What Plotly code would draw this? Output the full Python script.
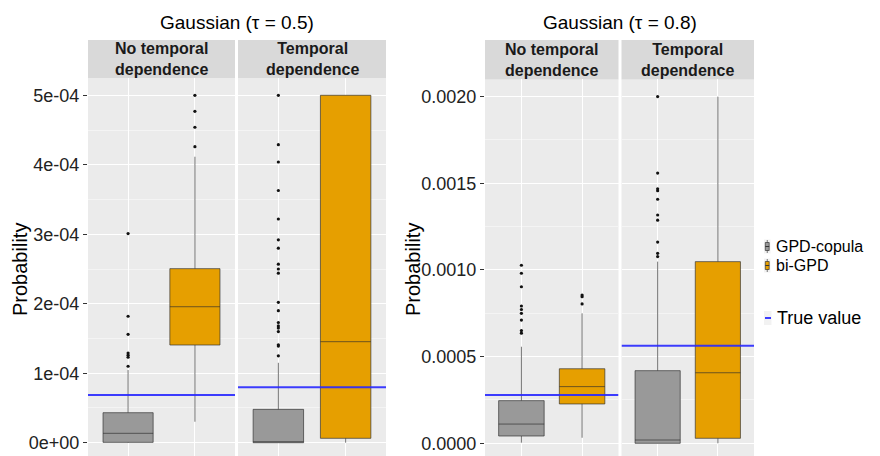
import plotly.graph_objects as go

W, H = 880, 456

# ---------------- data ----------------
group_titles = ["Gaussian (τ = 0.5)", "Gaussian (τ = 0.8)"]
facet_labels = ["No temporal<br>dependence", "Temporal<br>dependence"]
methods = ["GPD-copula", "bi-GPD"]

# panels: [τ=0.5 no-temp, τ=0.5 temp, τ=0.8 no-temp, τ=0.8 temp]; each [GPD-copula, bi-GPD]
q1 = [[0.005e-4, 1.406e-4], [0.0, 0.063e-4], [0.0000421, 0.000227], [0.0, 0.0000288]]
med = [[0.135e-4, 1.957e-4], [0.003e-4, 1.454e-4], [0.000111, 0.000327], [0.000019, 0.000407]]
q3 = [[0.432e-4, 2.505e-4], [0.48e-4, 5.0e-4], [0.000246, 0.000430], [0.000419, 0.001048]]
lowf = [[0.0, 0.302e-4], [0.0, 0.0], [0.0000035, 0.000032], [0.0, 0.0]]
upf = [[1.046e-4, 4.116e-4], [1.15e-4, 5.0e-4], [0.000557, 0.000750], [0.001048, 0.002]]

outliers = [
    [[1.10e-4, 1.23e-4, 1.26e-4, 1.29e-4, 1.56e-4, 1.82e-4, 3.01e-4],
     [4.26e-4, 4.54e-4, 4.77e-4, 5.0e-4]],
    [[1.25e-4, 1.39e-4, 1.41e-4, 1.60e-4, 1.65e-4, 1.68e-4, 1.73e-4, 1.90e-4, 2.02e-4,
      2.44e-4, 2.50e-4, 2.57e-4, 2.80e-4, 2.92e-4, 3.22e-4, 3.63e-4, 4.04e-4, 4.29e-4, 5.0e-4],
     []],
    [[0.000635, 0.000650, 0.000711, 0.000750, 0.000772, 0.000792, 0.000903, 0.000981, 0.001027],
     [0.000804, 0.000846, 0.000855]],
    [[0.001077, 0.001096, 0.001161, 0.001287, 0.001317, 0.001408, 0.001457, 0.001468, 0.001559, 0.002],
     []],
]

true_values = [0.687e-4, 0.797e-4, 0.000279, 0.000563]

left_ticks = [0, 1e-4, 2e-4, 3e-4, 4e-4, 5e-4]
left_ticktext = ["0e+00", "1e-04", "2e-04", "3e-04", "4e-04", "5e-04"]
right_ticks = [0, 0.0005, 0.0010, 0.0015, 0.0020]
right_ticktext = ["0.0000", "0.0005", "0.0010", "0.0015", "0.0020"]

# ---------------- styling ----------------
FONT = "Liberation Sans, Arial, Helvetica, sans-serif"
fills = ["#999999", "#E69F00"]
outline = "rgba(45,45,45,0.65)"
blue = "rgba(40,40,255,0.9)"

# panel pixel boxes (x0, x1) and panel top
panels_px = [(88, 235), (238, 386), (485, 618.5), (621.5, 754)]
tops_px = [78, 78, 79.4, 79.4]
yranges = [[-0.1914e-4, 5.249e-4], [-0.1914e-4, 5.249e-4],
           [-0.0000733, 0.0020993], [-0.0000733, 0.0020993]]
XR = [0.4, 2.6]


def px_x(x):
    return x / W


def px_y(y):
    return 1 - y / H


fig = go.Figure()
layout = dict(width=W, height=H, margin=dict(l=0, r=0, t=0, b=0),
              paper_bgcolor="white", plot_bgcolor="#EBEBEB",
              showlegend=False, font=dict(family=FONT, color="#222222"))

for p in range(4):
    ax = "" if p == 0 else str(p + 1)
    xa, ya = "x" + ax, "y" + ax
    x0, x1 = panels_px[p]
    is_left = p in (0, 2)
    ticks = left_ticks if p < 2 else right_ticks
    ttext = left_ticktext if p < 2 else right_ticktext
    minor_d = 0.5e-4 if p < 2 else 0.00025
    layout["xaxis" + ax] = dict(domain=[px_x(x0), px_x(x1)], range=XR, anchor=ya,
                                 tickvals=[1, 2], showticklabels=False, ticks="",
                                 showgrid=True, gridcolor="white", gridwidth=1.2,
                                 zeroline=False, showline=False, fixedrange=True)
    layout["yaxis" + ax] = dict(domain=[0, px_y(tops_px[p])], range=yranges[p], anchor=xa,
                                 tickvals=ticks, ticktext=ttext,
                                 showticklabels=is_left,
                                 ticks="outside" if is_left else "", ticklen=4,
                                 tickcolor="#333333", tickwidth=1,
                                 tickfont=dict(size=18, color="#222222", family=FONT),
                                 showgrid=True, gridcolor="white", gridwidth=1.2,
                                 minor=dict(dtick=minor_d, tick0=0, showgrid=True,
                                            gridcolor="#F4F4F4", gridwidth=0.6, ticks=""),
                                 zeroline=False, showline=False, fixedrange=True)
    for m in range(2):
        fig.add_trace(go.Box(
            x=[m + 1], q1=[q1[p][m]], median=[med[p][m]], q3=[q3[p][m]],
            lowerfence=[lowf[p][m]], upperfence=[upf[p][m]],
            width=0.75, whiskerwidth=0, boxpoints=False,
            fillcolor=fills[m], line=dict(color=outline, width=1),
            xaxis=xa, yaxis=ya, name=methods[m], hoverinfo="skip"))
        if outliers[p][m]:
            fig.add_trace(go.Scatter(
                x=[m + 1] * len(outliers[p][m]), y=outliers[p][m], mode="markers",
                marker=dict(color="#111111", size=3.2), xaxis=xa, yaxis=ya,
                hoverinfo="skip", cliponaxis=False))
    fig.add_trace(go.Scatter(x=XR, y=[true_values[p]] * 2, mode="lines",
                             line=dict(color=blue, width=2), xaxis=xa, yaxis=ya,
                             hoverinfo="skip"))

fig.update_layout(**layout)

shapes = []
annotations = []
# strips
for p in range(4):
    x0, x1 = panels_px[p]
    shapes.append(dict(type="rect", xref="paper", yref="paper",
                       x0=px_x(x0), x1=px_x(x1), y0=px_y(tops_px[p]), y1=px_y(40),
                       fillcolor="#D9D9D9", line=dict(width=0), layer="below"))
    annotations.append(dict(xref="paper", yref="paper", x=px_x((x0 + x1) / 2),
                            y=px_y((40 + tops_px[p]) / 2), text="<b>" + facet_labels[p % 2] + "</b>",
                            showarrow=False, xanchor="center", yanchor="middle",
                            font=dict(size=16, color="#1A1A1A", family=FONT)))
# group titles and y-axis titles
for g in range(2):
    xa0 = panels_px[2 * g][0]
    xa1 = panels_px[2 * g + 1][1]
    annotations.append(dict(xref="paper", yref="paper", x=px_x((xa0 + xa1) / 2), y=px_y(23),
                            text=group_titles[g], showarrow=False, xanchor="center",
                            yanchor="middle", font=dict(size=19, color="black", family=FONT)))
    annotations.append(dict(xref="paper", yref="paper", x=px_x([20, 413][g]), y=px_y(270),
                            text="Probability", textangle=-90, showarrow=False,
                            xanchor="center", yanchor="middle",
                            font=dict(size=20, color="black", family=FONT)))

# manual legend
legend_rows = [246.5, 265.5]
for m in range(2):
    yc = legend_rows[m]
    shapes.append(dict(type="rect", xref="paper", yref="paper", x0=px_x(764), x1=px_x(770.5),
                       y0=px_y(yc + 7), y1=px_y(yc - 7), fillcolor="#F2F2F2", line=dict(width=0)))
    shapes.append(dict(type="line", xref="paper", yref="paper", x0=px_x(767.25), x1=px_x(767.25),
                       y0=px_y(yc + 6.5), y1=px_y(yc - 6.5), line=dict(color="#777777", width=1)))
    shapes.append(dict(type="rect", xref="paper", yref="paper", x0=px_x(765.3), x1=px_x(769.2),
                       y0=px_y(yc + 4), y1=px_y(yc - 4), fillcolor=fills[m],
                       line=dict(color=outline, width=1)))
    shapes.append(dict(type="line", xref="paper", yref="paper", x0=px_x(765.3), x1=px_x(769.2),
                       y0=px_y(yc), y1=px_y(yc), line=dict(color="#333333", width=1)))
    annotations.append(dict(xref="paper", yref="paper", x=px_x(775), y=px_y(yc),
                            text=methods[m], showarrow=False, xanchor="left", yanchor="middle",
                            borderpad=0,
                            font=dict(size=16, color="black", family=FONT)))
shapes.append(dict(type="rect", xref="paper", yref="paper", x0=px_x(764), x1=px_x(771.5),
                   y0=px_y(325), y1=px_y(311), fillcolor="#F2F2F2", line=dict(width=0)))
shapes.append(dict(type="line", xref="paper", yref="paper", x0=px_x(765), x1=px_x(771),
                   y0=px_y(318), y1=px_y(318), line=dict(color=blue, width=2)))
annotations.append(dict(xref="paper", yref="paper", x=px_x(775), y=px_y(318),
                        text="True value", showarrow=False, xanchor="left", yanchor="middle",
                        font=dict(size=18, color="black", family=FONT)))

fig.update_layout(shapes=shapes, annotations=annotations)
fig.write_html("out.html")
